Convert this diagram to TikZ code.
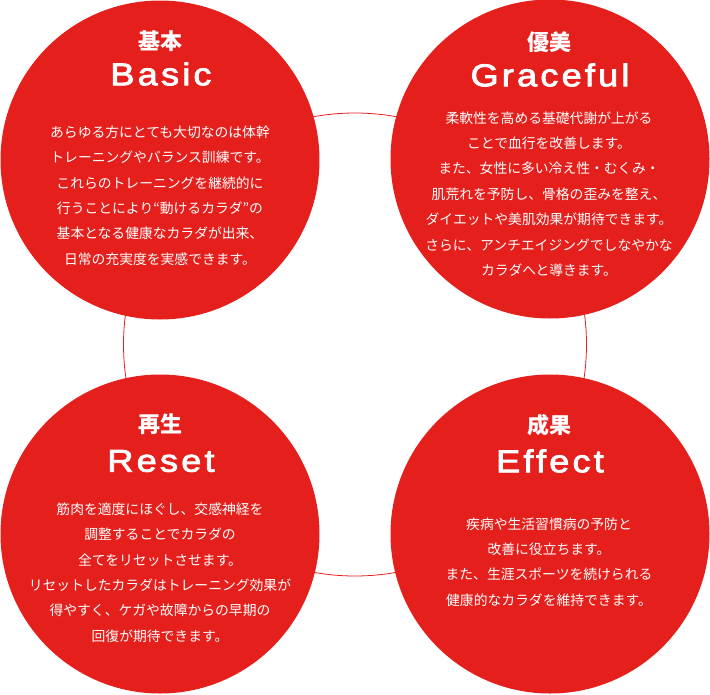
\documentclass[tikz,border=0pt]{standalone}
\usepackage{fontspec}
\setmainfont{Noto Sans CJK JP}
\newfontfamily\jpfont{Noto Sans CJK JP}
\newfontfamily\enfont[LetterSpace=10,FakeStretch=1.15,FakeBold=2.6]{Liberation Sans}
\usepackage{tikz}
\usetikzlibrary{positioning}
\usepackage{xcolor}
\definecolor{discred}{HTML}{E51F1C}

\begin{document}
\begin{tikzpicture}[
  x=1pt, y=-1pt,
  disc/.style={circle, fill=discred, minimum size=319pt, inner sep=0pt},
  ring/.style={circle, draw=discred, line width=0.8pt, minimum size=463pt, inner sep=0pt},
  jatitle/.style={text=white, inner sep=0pt,
    font=\jpfont\bfseries\fontsize{22}{22}\selectfont},
  entitle/.style={text=white, inner sep=0pt,
    font=\enfont\fontsize{31.5}{31.5}\selectfont},
  bodytxt/.style={text=white, inner sep=0pt, align=center,
    font=\jpfont\fontsize{13.8}{25.4}\selectfont}
]
  \useasboundingbox (0,0) rectangle (710,694);

  % Ring behind the discs
  \node[ring] (cycle) at (355,344.5) {};

  % Discs
  \node[disc] (basic)    at (160,160) {};
  \node[disc] (graceful) at (550,159) {};
  \node[disc] (reset)    at (160,534) {};
  \node[disc] (effect)   at (550,534) {};

  % Basic
  \node[jatitle] (basic-ja) at (160,41) {基本};
  \node[entitle] (basic-en) at (161,74) {Basic};
  \node[bodytxt] (basic-txt) at (160,195.5) {%
    あらゆる方にとても大切なのは体幹\\
    トレーニングやバランス訓練です。\\
    これらのトレーニングを継続的に\\
    行うことにより“動けるカラダ”の\\
    基本となる健康なカラダが出来、\\
    日常の充実度を実感できます。};

  % Graceful
  \node[jatitle] (graceful-ja) at (549,42) {優美};
  \node[entitle] (graceful-en) at (550,75) {Graceful};
  \node[bodytxt] (graceful-txt) at (549,194) {%
    柔軟性を高める基礎代謝が上がる\\
    ことで血行を改善します。\\
    また、女性に多い冷え性・むくみ・\\
    肌荒れを予防し、骨格の歪みを整え、\\
    ダイエットや美肌効果が期待できます。\\
    さらに、アンチエイジングでしなやかな\\
    カラダへと導きます。};

  % Reset
  \node[jatitle] (reset-ja) at (160,424) {再生};
  \node[entitle] (reset-en) at (161,461) {Reset};
  \node[bodytxt] (reset-txt) at (160,572.5) {%
    筋肉を適度にほぐし、交感神経を\\
    調整することでカラダの\\
    全てをリセットさせます。\\
    リセットしたカラダはトレーニング効果が\\
    得やすく、ケガや故障からの早期の\\
    回復が期待できます。};

  % Effect
  \node[jatitle] (effect-ja) at (549,425) {成果};
  \node[entitle] (effect-en) at (550,461) {Effect};
  \node[bodytxt] (effect-txt) at (549,562) {%
    疾病や生活習慣病の予防と\\
    改善に役立ちます。\\
    また、生涯スポーツを続けられる\\
    健康的なカラダを維持できます。};
\end{tikzpicture}
\end{document}
